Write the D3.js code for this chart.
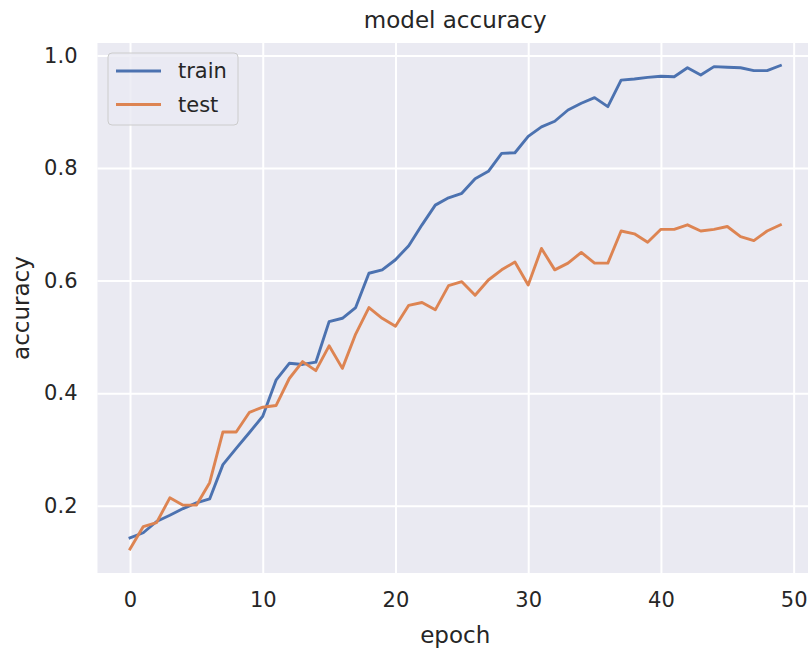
<!DOCTYPE html>
<html>
<head>
<meta charset="utf-8">
<script src="https://cdn.jsdelivr.net/npm/d3@7"></script>
<style>
  body { margin: 0; background: #fff; }
  text { font-family: "DejaVu Sans", sans-serif; fill: #262626; }
</style>
</head>
<body>
<script>
// values, one per epoch (index = epoch)
let train = [0.143, 0.152, 0.172, 0.183, 0.195, 0.205, 0.212, 0.273, 0.302, 0.330,
    0.359, 0.423, 0.453, 0.451, 0.455, 0.527, 0.533, 0.552, 0.613, 0.619,
    0.637, 0.662, 0.699, 0.734, 0.747, 0.755, 0.781, 0.794, 0.826, 0.827,
    0.856, 0.873, 0.883, 0.903, 0.915, 0.925, 0.909, 0.956, 0.958, 0.961,
    0.963, 0.962, 0.978, 0.965, 0.980, 0.979, 0.978, 0.973, 0.973, 0.982];
let test = [0.123, 0.163, 0.170, 0.214, 0.201, 0.201, 0.241, 0.331, 0.331, 0.366,
    0.375, 0.378, 0.426, 0.456, 0.440, 0.484, 0.444, 0.505, 0.552, 0.533,
    0.519, 0.556, 0.561, 0.548, 0.591, 0.598, 0.574, 0.601, 0.619, 0.633,
    0.592, 0.657, 0.619, 0.631, 0.650, 0.631, 0.631, 0.688, 0.683, 0.668,
    0.691, 0.691, 0.699, 0.688, 0.691, 0.696, 0.678, 0.671, 0.688, 0.699];
let seriesNames = ["train", "test"];
let xTicks = [0, 10, 20, 30, 40, 50];
let yTicks = [0.2, 0.4, 0.6, 0.8, 1.0];

let colors = ["#4C72B0", "#DD8452"];
let svgWidth = 808;
let svgHeight = 653;

let plot = { left: 97.5, right: 812.9, top: 43, bottom: 573 };

let svg = d3.select("body")
    .append("svg")
    .attr("width", svgWidth)
    .attr("height", svgHeight)

let x = d3.scaleLinear()
    .domain([-2.45, 51.45])
    .range([plot.left, plot.right]);

let y = d3.scaleLinear()
    .domain([0.0805, 1.022])
    .range([plot.bottom, plot.top]);

svg.append("rect")
    .attr("x", plot.left)
    .attr("y", plot.top)
    .attr("width", plot.right - plot.left)
    .attr("height", plot.bottom - plot.top)
    .attr("fill", "#EAEAF2");

// grid
let xAxis = d3.axisBottom(x).tickValues(xTicks).tickSize(-(plot.bottom - plot.top)).tickPadding(19);
let yAxis = d3.axisLeft(y).tickValues(yTicks).tickFormat(d3.format(".1f")).tickSize(-(plot.right - plot.left)).tickPadding(20);

let gx = svg.append("g")
    .attr("transform", `translate(0,${plot.bottom})`)
    .call(xAxis);
let gy = svg.append("g")
    .attr("transform", `translate(${plot.left},0)`)
    .call(yAxis);

[gx, gy].forEach(g => {
    g.select(".domain").remove();
    g.selectAll(".tick line").attr("stroke", "#fff").attr("stroke-width", 2);
    g.selectAll(".tick text").attr("font-size", 21).attr("fill", "#262626")
        .attr("font-family", "DejaVu Sans, sans-serif");
});
gx.selectAll(".tick text").attr("dy", "0.71em");

let line = d3.line()
    .x((d, i) => x(i))
    .y(d => y(d));

[train, test].forEach((vals, k) => {
    svg.append("path")
        .datum(vals)
        .attr("fill", "none")
        .attr("stroke", colors[k])
        .attr("stroke-width", 2.9)
        .attr("stroke-linejoin", "round")
        .attr("stroke-linecap", "square")
        .attr("d", line);
});

// title and labels
svg.append("text")
    .attr("x", (plot.left + plot.right) / 2)
    .attr("y", 28)
    .attr("text-anchor", "middle")
    .attr("font-size", 23)
    .text("model accuracy");

svg.append("text")
    .attr("x", (plot.left + plot.right) / 2)
    .attr("y", 643)
    .attr("text-anchor", "middle")
    .attr("font-size", 23)
    .text("epoch");

svg.append("text")
    .attr("transform", `translate(29,${(plot.top + plot.bottom) / 2}) rotate(-90)`)
    .attr("text-anchor", "middle")
    .attr("font-size", 23)
    .text("accuracy");

// legend
let legend = svg.append("g").attr("transform", "translate(108,53)");
legend.append("rect")
    .attr("width", 130)
    .attr("height", 72)
    .attr("rx", 4)
    .attr("fill", "#EAEAF2")
    .attr("fill-opacity", 0.8)
    .attr("stroke", "#CCCCCC")
    .attr("stroke-width", 1);

seriesNames.forEach((name, k) => {
    let ly = 18 + k * 33.5;
    legend.append("line")
        .attr("x1", 8).attr("x2", 53)
        .attr("y1", ly).attr("y2", ly)
        .attr("stroke", colors[k])
        .attr("stroke-width", 2.9);
    legend.append("text")
        .attr("x", 70)
        .attr("y", ly)
        .attr("dy", "0.35em")
        .attr("font-size", 21)
        .text(name);
});
</script>
</body>
</html>
